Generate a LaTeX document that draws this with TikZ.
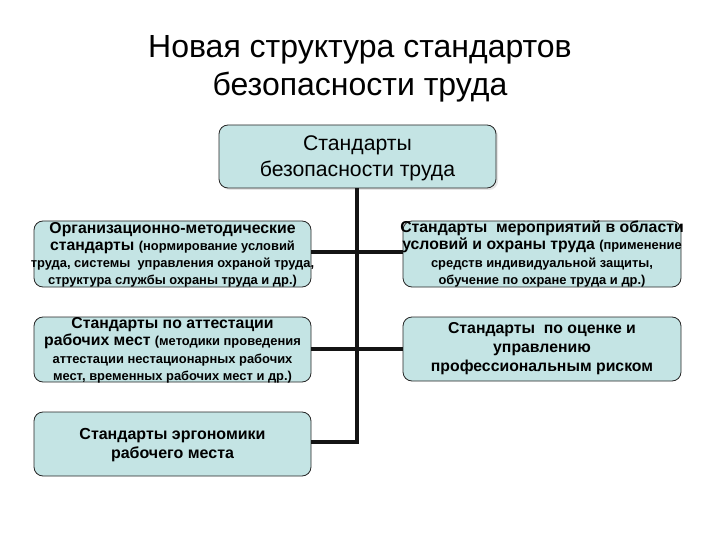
\documentclass[tikz,border=0pt]{standalone}
\usepackage{fontspec}
\setmainfont{Liberation Sans}
\definecolor{boxfill}{RGB}{196,228,228}
\newcommand{\paren}{\fontsize{12.9}{17.4}\selectfont}
\newcommand{\boxlines}[2]{\begingroup\setlength{\tabcolsep}{0pt}\fontsize{15.8}{#1}\selectfont\bfseries\begin{tabular}{c}#2\end{tabular}\endgroup}
\begin{document}
\begin{tikzpicture}[x=1pt,y=-1pt,
  stdbox/.style={draw=black!85, line width=0.8pt, fill=boxfill, rounded corners=9pt},
  boxtext/.style={inner sep=0pt},
  conn/.style={line width=3.6pt, black!92}]
\useasboundingbox (0,0) rectangle (720,540);
% title
\node[align=center, font=\fontsize{32}{38}\selectfont] (title) at (360,69) {Новая структура стандартов\\безопасности труда};
% connector junctions
\coordinate (top) at (357,188);
\coordinate (j1) at (357,252);
\coordinate (j2) at (357,349);
\coordinate (j3) at (357,442);
% boxes
\draw[stdbox, draw=none, fill=black!10] (221,127) rectangle (498,190);
\draw[stdbox] (219,125) rectangle (496,188);
\node[align=center, font=\fontsize{21.2}{26}\selectfont, inner sep=0pt] (main) at (357.5,158) {Стандарты\\безопасности труда};

\draw[stdbox] (34,221) rectangle (311,287);
\coordinate (b1) at (172.5,255.5);
\draw[stdbox] (403,221) rectangle (681,287);
\coordinate (b2) at (542,255);
\draw[stdbox] (34,317) rectangle (311,382);
\coordinate (b3) at (172.5,351);
\draw[stdbox] (403,317) rectangle (681,381);
\coordinate (b4) at (542,349);
\draw[stdbox] (34,412) rectangle (311,476);
\coordinate (b5) at (172.5,445);

\draw[conn] (top) -- (j1) -- (j2) -- (j3) -- (311,442);
\draw[conn] (311,252) -- (j1) -- (403,252);
\draw[conn] (311,349) -- (j2) -- (403,349);

\node[boxtext] (t1) at (b1) {\boxlines{17.2}{Организационно-методические\\стандарты {\paren (нормирование условий}\\{\paren труда, системы\ \ управления охраной труда,}\\{\paren структура службы охраны труда и др.)}}};
\node[boxtext] (t2) at (b2) {\boxlines{17.2}{Стандарты\ \ мероприятий в области\\условий и охраны труда {\paren (применение}\\{\paren средств индивидуальной защиты,}\\{\paren обучение по охране труда и др.)}}};
\node[boxtext] (t3) at (b3) {\boxlines{17.6}{Стандарты по аттестации\\рабочих мест {\paren (методики проведения}\\{\paren аттестации нестационарных рабочих}\\{\paren мест, временных рабочих мест и др.)}}};
\node[boxtext] (t4) at (b4) {\boxlines{19}{Стандарты\ \ по оценке и\\управлению\\профессиональным риском}};
\node[boxtext] (t5) at (b5) {\boxlines{19.5}{{\fontsize{16}{19.5}\selectfont Стандарты эргономики}\\{\fontsize{16}{19.5}\selectfont рабочего места}}};
\end{tikzpicture}
\end{document}
